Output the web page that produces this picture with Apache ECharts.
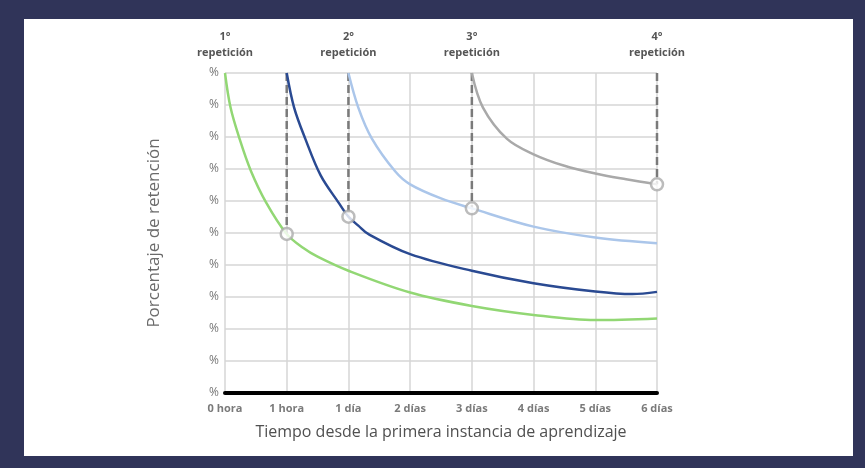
<!DOCTYPE html>
<html>
<head>
<meta charset="utf-8">
<script src="https://cdn.jsdelivr.net/npm/echarts@6/dist/echarts.min.js"></script>
<style>
html,body{margin:0;padding:0;background:#303459;}
#chart{width:865px;height:468px;}
</style>
</head>
<body>
<div id="chart"></div>
<script>
// Category tick labels along the time axis (positions 0..7)
var xLabels = ['0 hora', '1 hora', '1 día', '2 días', '3 días', '4 días', '5 días', '6 días'];
// Labels shown above the plot at specific tick positions
var topLabelPos = [0, 2, 4, 7];
var topLabelNum = ['1°', '2°', '3°', '4°'];
var topLabelWord = 'repetición';

// Retention curves [time position, percent]
var greenCurve = [[0,100],[0.09,89.2],[0.235,79.5],[0.42,69.4],[0.665,59.6],[1,49.7],[1.27,45.3],[1.5,42.6],[2,38.2],[3,31.4],[4,27.2],[5,24.4],[6,22.8],[7,23.3]];
var darkBlueCurve = [[1,100],[1.12,89.2],[1.30,79.5],[1.55,68],[1.84,59.5],[2,55.1],[2.16,52.3],[2.32,49.7],[3,43.4],[4,38.2],[5,34.3],[6,31.7],[6.6,30.9],[7,31.6]];
var lightBlueCurve = [[2,100],[2.16,89.2],[2.38,79.5],[2.76,69.2],[3,65.2],[3.5,60.8],[4,57.7],[5,52],[6,48.6],[7,46.8]];
var grayCurve = [[4,100],[4.18,89.2],[4.57,79.4],[5,74.6],[5.5,71],[6,68.6],[6.5,66.8],[7,65.2]];

// Repetition points (where the dashed line meets the curve)
var repX = [1, 2, 4, 7];
var repY = [49.7, 55.1, 57.7, 65.2];

var chart = echarts.init(document.getElementById('chart'));

var font = '"Open Sans", "Noto Sans", sans-serif';

var dashSeries = repX.map(function (x, i) {
  return {
    type: 'line',
    data: [[x, 100], [x, repY[i]]],
    symbol: 'none',
    silent: true,
    z: 3,
    lineStyle: { color: '#7a7a7a', width: 2.5, type: [8, 4] }
  };
});

function curve(data, color) {
  return {
    type: 'line',
    data: data,
    smooth: 0.35,
    symbol: 'none',
    z: 4,
    lineStyle: { color: color, width: 2.5 }
  };
}

var option = {
  backgroundColor: '#303459',
  animation: false,
  graphic: [{
    type: 'rect',
    left: 24, top: 19,
    shape: { width: 829, height: 437 },
    style: { fill: '#ffffff' },
    z: -10
  }],
  grid: { left: 225, right: 208, top: 73, bottom: 75 },
  xAxis: [{
    type: 'value',
    min: 0, max: 7, interval: 1,
    position: 'bottom',
    axisLine: { show: true, onZero: false, lineStyle: { color: '#000', width: 4 } },
    axisTick: { show: false },
    splitLine: { show: true, lineStyle: { color: '#d6d6d6', width: 1.5 } },
    axisLabel: {
      margin: 10,
      color: '#7a7a7a',
      fontWeight: 'bold',
      fontSize: 11,
      fontFamily: font,
      formatter: function (v) { return xLabels[Math.round(v)]; }
    },
    name: 'Tiempo desde la primera instancia de aprendizaje',
    nameLocation: 'middle',
    nameGap: 31,
    nameTextStyle: { color: '#505050', fontSize: 16, fontFamily: font }
  }, {
    type: 'value',
    min: 0, max: 7, interval: 1,
    position: 'top',
    axisLine: { show: false },
    axisTick: { show: false },
    splitLine: { show: false },
    axisLabel: {
      margin: 12,
      fontFamily: font,
      formatter: function (v) {
        var i = topLabelPos.indexOf(Math.round(v));
        if (i < 0) return '';
        return '{n|' + topLabelNum[i] + '}\n{w|' + topLabelWord + '}';
      },
      rich: {
        n: { color: '#555', fontWeight: 'bold', fontSize: 11, fontFamily: font, lineHeight: 16, align: 'center' },
        w: { color: '#555', fontWeight: 'bold', fontSize: 11, fontFamily: font, lineHeight: 16, align: 'center' }
      }
    }
  }],
  yAxis: {
    type: 'value',
    min: 0, max: 100, interval: 10,
    axisLine: { show: false },
    axisTick: { show: false },
    splitLine: { show: true, lineStyle: { color: '#d6d6d6', width: 1.5 } },
    axisLabel: {
      margin: 6,
      color: '#777',
      fontSize: 12,
      fontFamily: font,
      formatter: function () { return '%'; }
    },
    name: 'Porcentaje de retención',
    nameLocation: 'middle',
    nameRotate: 90,
    nameGap: 62,
    nameTextStyle: { color: '#6a6a6a', fontSize: 17, fontFamily: font }
  },
  series: dashSeries.concat([
    curve(greenCurve, '#92d774'),
    curve(darkBlueCurve, '#2a4a92'),
    curve(lightBlueCurve, '#abc6ea'),
    curve(grayCurve, '#a9a9a9'),
    {
      type: 'scatter',
      data: repX.map(function (x, i) { return [x, repY[i]]; }),
      symbol: 'circle',
      symbolSize: 12,
      z: 6,
      itemStyle: { color: '#ffffff', borderColor: '#ababab', borderWidth: 2.5 }
    }
  ])
};

chart.setOption(option);
</script>
</body>
</html>
